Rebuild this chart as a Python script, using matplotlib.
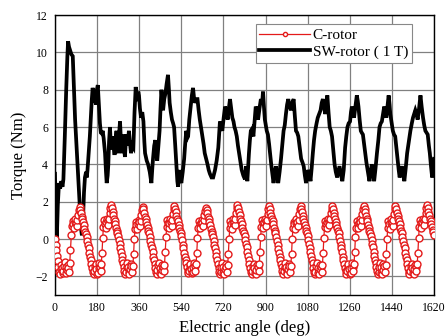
import matplotlib
matplotlib.use("Agg")
import matplotlib.pyplot as plt
import numpy as np

plt.rcParams['font.family'] = ['Liberation Serif', 'DejaVu Serif']

# C-rotor torque, sampled every 3 deg (one row per 135 deg period)
c_rotor_rows = [
    [0.0, -0.3, -0.6, -0.9, -1.2, -1.5, -1.75, -1.85, -1.6, -1.4, -1.55, -1.8, -1.7, -1.45, -1.25,
     -1.5, -1.8, -1.65, -1.4, -1.55, -1.75, -1.3, -0.6, 0.2, 0.7, 0.95, 0.8, 0.6, 0.9, 1.05,
     0.85, 0.7, 1.0, 1.3, 1.55, 1.7, 1.55, 1.4, 1.2, 1.05, 0.9, 0.75, 0.55, 0.4, 0.25],
    [0.1, -0.1, -0.3, -0.5, -0.75, -0.95, -1.15, -1.35, -1.55, -1.75, -1.9, -1.7, -1.45, -1.35, -1.6,
     -1.85, -1.8, -1.55, -1.3, -1.5, -1.7, -1.35, -0.75, 0.05, 0.65, 1.0, 0.8, 0.6, 0.9, 1.1,
     0.95, 0.75, 1.05, 1.4, 1.65, 1.8, 1.65, 1.45, 1.3, 1.1, 0.95, 0.8, 0.6, 0.45, 0.3],
    [0.15, -0.05, -0.25, -0.5, -0.7, -0.9, -1.1, -1.3, -1.5, -1.7, -1.85, -1.75, -1.5, -1.3, -1.5,
     -1.75, -1.9, -1.6, -1.35, -1.45, -1.75, -1.45, -0.8, 0.0, 0.55, 0.9, 0.75, 0.55, 0.8, 1.0,
     0.9, 0.7, 0.95, 1.3, 1.55, 1.7, 1.6, 1.4, 1.2, 1.05, 0.9, 0.75, 0.6, 0.45, 0.3],
    [0.1, -0.1, -0.3, -0.5, -0.7, -0.95, -1.15, -1.35, -1.55, -1.75, -1.85, -1.65, -1.4, -1.3, -1.55,
     -1.8, -1.85, -1.65, -1.4, -1.5, -1.7, -1.4, -0.7, 0.1, 0.65, 1.0, 0.85, 0.6, 0.85, 1.05,
     0.9, 0.7, 1.0, 1.35, 1.6, 1.75, 1.6, 1.45, 1.25, 1.1, 0.95, 0.75, 0.6, 0.45, 0.3],
    [0.15, -0.05, -0.3, -0.5, -0.75, -0.95, -1.15, -1.3, -1.5, -1.7, -1.8, -1.7, -1.45, -1.35, -1.6,
     -1.8, -1.75, -1.5, -1.3, -1.45, -1.7, -1.35, -0.75, 0.05, 0.6, 0.95, 0.8, 0.6, 0.85, 1.0,
     0.85, 0.7, 1.0, 1.3, 1.5, 1.65, 1.55, 1.4, 1.2, 1.05, 0.9, 0.75, 0.55, 0.4, 0.25],
    [0.1, -0.1, -0.3, -0.5, -0.7, -0.9, -1.1, -1.35, -1.55, -1.75, -1.9, -1.75, -1.5, -1.3, -1.5,
     -1.8, -1.85, -1.6, -1.35, -1.5, -1.75, -1.4, -0.8, 0.0, 0.6, 0.95, 0.8, 0.55, 0.85, 1.05,
     0.9, 0.75, 1.05, 1.4, 1.65, 1.8, 1.65, 1.45, 1.3, 1.1, 0.95, 0.8, 0.6, 0.45, 0.3],
    [0.15, -0.05, -0.25, -0.45, -0.7, -0.9, -1.15, -1.35, -1.55, -1.75, -1.85, -1.7, -1.45, -1.35, -1.55,
     -1.8, -1.9, -1.65, -1.4, -1.5, -1.7, -1.35, -0.7, 0.1, 0.65, 1.0, 0.85, 0.6, 0.9, 1.1,
     0.95, 0.7, 1.0, 1.35, 1.6, 1.75, 1.6, 1.4, 1.25, 1.1, 0.95, 0.8, 0.6, 0.45, 0.3],
    [0.1, -0.1, -0.3, -0.55, -0.75, -0.95, -1.15, -1.35, -1.5, -1.7, -1.85, -1.7, -1.5, -1.3, -1.5,
     -1.75, -1.85, -1.6, -1.35, -1.45, -1.75, -1.45, -0.8, 0.0, 0.6, 0.9, 0.8, 0.55, 0.85, 1.05,
     0.9, 0.7, 1.0, 1.35, 1.6, 1.75, 1.6, 1.45, 1.25, 1.1, 0.9, 0.75, 0.6, 0.45, 0.3],
    [0.15, -0.05, -0.25, -0.5, -0.7, -0.9, -1.1, -1.3, -1.55, -1.75, -1.9, -1.75, -1.45, -1.3, -1.55,
     -1.8, -1.85, -1.6, -1.4, -1.5, -1.75, -1.4, -0.75, 0.05, 0.65, 0.95, 0.8, 0.6, 0.9, 1.05,
     0.9, 0.75, 1.05, 1.4, 1.6, 1.75, 1.6, 1.4, 1.25, 1.05, 0.9, 0.75, 0.6, 0.45, 0.3],
    [0.1, -0.1, -0.3, -0.5, -0.7, -0.95, -1.15, -1.35, -1.55, -1.7, -1.85, -1.7, -1.45, -1.35, -1.6,
     -1.85, -1.8, -1.55, -1.3, -1.5, -1.7, -1.35, -0.7, 0.1, 0.6, 0.95, 0.8, 0.6, 0.85, 1.05,
     0.9, 0.7, 1.0, 1.35, 1.6, 1.75, 1.6, 1.45, 1.25, 1.1, 0.95, 0.75, 0.6, 0.45, 0.3],
    [0.15, -0.05, -0.25, -0.45, -0.7, -0.9, -1.1, -1.3, -1.5, -1.7, -1.85, -1.75, -1.5, -1.3, -1.5,
     -1.8, -1.9, -1.65, -1.35, -1.45, -1.75, -1.4, -0.8, 0.0, 0.6, 0.95, 0.8, 0.55, 0.85, 1.05,
     0.9, 0.7, 1.0, 1.35, 1.6, 1.75, 1.6, 1.4, 1.25, 1.1, 0.95, 0.8, 0.6, 0.45, 0.3],
    [0.1, -0.1, -0.3, -0.5, -0.75, -0.95, -1.15, -1.35, -1.55, -1.75, -1.85, -1.7, -1.45, -1.35, -1.55,
     -1.8, -1.85, -1.6, -1.4, -1.5, -1.7, -1.35, -0.75, 0.05, 0.65, 1.0, 0.85, 0.6, 0.9, 1.1,
     0.95, 0.75, 1.05, 1.4, 1.65, 1.8, 1.65, 1.45, 1.3, 1.1, 0.95, 0.8, 0.65, 0.5, 0.35],
    [0.2],
]
c_rotor_step = 3

# SW-rotor (1 T) torque, read at irregular angles
sw_angle = [
    0, 3, 8, 12, 17, 22, 27, 32, 36, 42, 48, 53, 56, 60, 65, 70, 76, 80, 86, 93,
    100, 106, 111, 115, 119, 124, 128, 133, 136, 139, 144, 149, 153, 157, 161, 164, 167, 171, 175, 179,
    183, 186, 188, 192, 196, 200, 204, 208, 214, 218, 221, 225, 228, 231, 235, 239, 242, 246, 249, 253,
    256, 260, 263, 267, 271, 275, 278, 282, 285, 289, 292, 296, 299, 303, 306, 310, 316, 320, 325, 330,
    335, 340, 345, 349, 353, 356, 359, 363, 368, 373, 378, 382, 385, 392, 398, 405, 412, 416, 419, 424,
    429, 433, 437, 442, 447, 451, 455, 459, 462, 467, 472, 477, 483, 487, 490, 495, 500, 505, 509, 514,
    519, 523, 526, 530, 533, 537, 540, 546, 552, 557, 561, 565, 569, 574, 580, 585, 590, 594, 597, 603,
    609, 614, 619, 624, 629, 635, 640, 646, 652, 657, 662, 669, 676, 680, 684, 691, 698, 702, 705, 710,
    715, 721, 727, 733, 738, 743, 748, 753, 758, 763, 767, 772, 777, 782, 787, 793, 798, 805, 812, 817,
    822, 829, 833, 837, 842, 848, 853, 858, 863, 868, 874, 880, 885, 889, 893, 897, 901, 905, 910, 915,
    920, 925, 930, 934, 939, 944, 949, 954, 960, 966, 972, 977, 982, 987, 992, 997, 1003, 1009, 1014, 1020,
    1025, 1030, 1035, 1040, 1046, 1052, 1058, 1063, 1068, 1073, 1078, 1083, 1088, 1092, 1097, 1102, 1107, 1112, 1118, 1123,
    1129, 1135, 1140, 1145, 1150, 1155, 1160, 1164, 1169, 1174, 1179, 1184, 1190, 1195, 1200, 1206, 1211, 1216, 1222, 1228,
    1234, 1240, 1245, 1250, 1255, 1261, 1265, 1269, 1274, 1278, 1284, 1290, 1294, 1297, 1302, 1307, 1311, 1316, 1321, 1326,
    1331, 1336, 1340, 1344, 1349, 1354, 1359, 1364, 1370, 1376, 1382, 1387, 1392, 1397, 1402, 1407, 1412, 1416, 1421, 1426,
    1430, 1433, 1439, 1444, 1449, 1454, 1459, 1464, 1469, 1473, 1478, 1483, 1488, 1493, 1499, 1505, 1512, 1519, 1525, 1530,
    1535, 1540, 1545, 1550, 1556, 1562, 1567, 1573, 1578, 1583, 1588, 1593, 1598, 1602, 1607, 1612, 1616, 1620,
]
sw_torque = [
    3.5, 1.5, 0.1, 1.8, 3.0, 2.7, 3.1, 2.8, 3.2, 5.5, 8.0, 9.8, 10.6, 10.3, 10.1, 9.9, 9.8, 8.5, 6.4, 4.8,
    3.1, 1.8, 0.6, 0.2, 0.8, 2.5, 3.3, 3.6, 3.3, 3.7, 4.6, 5.5, 6.5, 7.4, 8.1, 7.9, 7.3, 7.6, 7.2, 8.0,
    8.25, 7.6, 7.1, 6.2, 5.7, 5.65, 5.8, 5.4, 4.6, 3.6, 3.0, 3.4, 4.0, 5.2, 6.0, 5.0, 4.8, 5.5, 5.3, 4.6,
    4.6, 5.5, 5.8, 4.9, 4.6, 5.8, 6.3, 5.2, 4.6, 5.4, 5.6, 4.8, 4.4, 5.3, 5.6, 5.0, 5.8, 5.2, 4.6, 5.0,
    4.9, 6.8, 8.15, 7.6, 7.4, 7.9, 7.7, 7.0, 6.5, 6.8, 6.3, 5.2, 4.6, 4.2, 4.0, 3.6, 3.0, 3.8, 4.3, 5.0,
    5.3, 4.6, 4.2, 5.0, 5.8, 7.0, 8.0, 7.4, 6.9, 7.5, 7.8, 8.3, 8.8, 8.0, 7.3, 6.8, 6.4, 6.2, 6.0, 5.0,
    3.9, 3.1, 2.8, 3.3, 3.7, 3.2, 3.0, 3.6, 4.3, 5.2, 5.8, 5.4, 5.5, 6.4, 7.1, 7.7, 8.1, 7.6, 7.3, 7.5,
    7.5, 6.9, 6.4, 6.0, 5.6, 5.1, 4.6, 4.3, 4.0, 3.7, 3.5, 3.3, 3.3, 3.5, 3.7, 4.2, 4.9, 5.7, 6.3, 6.0,
    5.8, 6.5, 7.1, 6.8, 6.4, 7.0, 7.5, 7.0, 6.5, 6.3, 6.0, 5.8, 5.5, 5.0, 4.6, 4.1, 3.7, 3.4, 3.2, 3.9,
    3.1, 4.6, 5.3, 5.8, 5.9, 5.5, 6.3, 7.1, 6.9, 6.4, 7.0, 7.5, 7.2, 7.9, 7.1, 6.4, 6.1, 5.8, 5.6, 5.1,
    4.5, 3.9, 3.4, 3.0, 3.5, 3.9, 3.4, 3.0, 3.6, 4.3, 5.1, 5.8, 6.1, 6.7, 7.2, 7.5, 7.1, 6.9, 7.3, 7.5,
    6.6, 5.8, 5.7, 5.5, 4.9, 4.3, 4.1, 3.9, 3.4, 3.0, 3.4, 3.7, 3.4, 3.1, 3.8, 4.6, 5.3, 5.8, 6.2, 6.5,
    6.7, 6.9, 7.3, 7.5, 7.1, 6.7, 7.3, 7.7, 6.8, 6.0, 5.8, 5.5, 4.7, 4.0, 3.6, 3.3, 3.6, 3.9, 3.5, 3.1,
    3.7, 4.9, 5.5, 6.0, 6.2, 6.3, 6.8, 7.1, 6.8, 6.5, 7.1, 7.7, 7.4, 7.1, 6.4, 5.8, 5.7, 5.6, 5.1, 4.6,
    4.1, 3.7, 3.4, 3.1, 3.6, 4.0, 3.5, 3.1, 3.8, 4.6, 5.3, 6.0, 6.2, 6.3, 6.7, 7.1, 6.8, 6.5, 7.1, 7.7,
    7.2, 6.7, 6.2, 5.8, 5.6, 5.5, 4.9, 4.3, 3.7, 3.3, 3.6, 3.9, 3.5, 3.1, 3.8, 4.6, 5.2, 5.8, 6.2, 6.5,
    6.7, 6.9, 6.7, 6.4, 7.0, 7.7, 7.1, 6.5, 6.1, 5.8, 5.7, 5.6, 5.0, 4.6, 3.9, 3.3, 3.8, 4.3,
]

x_ticks = [0, 180, 360, 540, 720, 900, 1080, 1260, 1440, 1620]
y_ticks = [-2, 0, 2, 4, 6, 8, 10, 12]

c_rotor = np.concatenate([np.array(r, dtype=float) for r in c_rotor_rows])
c_angle = c_rotor_step * np.arange(len(c_rotor))
n = min(len(sw_angle), len(sw_torque))

fig = plt.figure(figsize=(4.47, 3.36), dpi=100)
ax = fig.add_axes([0.123, 0.122, 0.848, 0.833])

ax.plot(sw_angle[:n], sw_torque[:n], color='black', lw=2.7, label='SW-rotor ( 1 T)',
        zorder=3, solid_joinstyle='miter')
ax.plot(c_angle, c_rotor, color='#e41a1a', lw=0.9, marker='o', ms=5,
        mfc='white', mec='#e41a1a', mew=1.0, label='C-rotor', zorder=4)

ax.set_xlim(0, 1620)
ax.set_ylim(-3, 12)
ax.set_xticks(x_ticks)
ax.set_yticks(y_ticks)
ax.tick_params(axis='both', labelsize=8.5, length=0, pad=5)
ax.grid(True, color='#808080', lw=0.9)
ax.set_axisbelow(True)
for s in ax.spines.values():
    s.set_linewidth(1.0)

ax.set_xlabel('Electric angle (deg)', fontsize=12, labelpad=4)
ax.set_ylabel('Torque (Nm)', fontsize=12, labelpad=6)

handles, labels = ax.get_legend_handles_labels()
leg = ax.legend(handles[::-1], labels[::-1], loc='upper right', fontsize=11,
                bbox_to_anchor=(0.942, 0.967), borderaxespad=0, frameon=True, fancybox=False,
                edgecolor='#888888', borderpad=0.25, handlelength=3.3,
                handletextpad=0.2, labelspacing=0.2, markerscale=0.6, framealpha=1)
leg.get_frame().set_linewidth(0.8)

fig.savefig('out.png', dpi=100)
